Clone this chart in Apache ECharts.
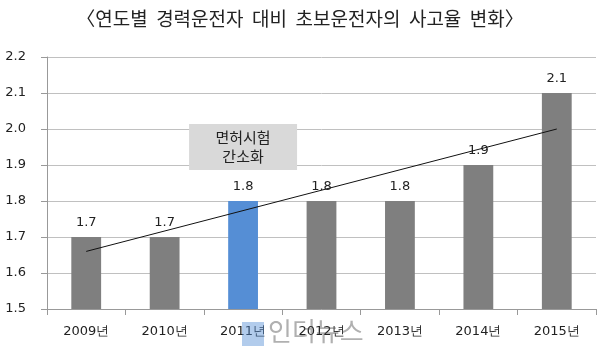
<!DOCTYPE html>
<html><head><meta charset="utf-8">
<script src="https://cdn.jsdelivr.net/npm/echarts@6/dist/echarts.min.js"></script>
<style>html,body{margin:0;padding:0;background:#fff}#c{width:600px;height:350px}</style>
</head><body><div id="c"></div>
<script>
const titleText = '〈연도별  경력운전자  대비  초보운전자의  사고율  변화〉';
const categories = ['2009년','2010년','2011년','2012년','2013년','2014년','2015년'];
const values = [1.7, 1.7, 1.8, 1.8, 1.8, 1.9, 2.1];
const highlightIndex = 2;
const trend = [1.66, null, null, null, null, null, 2.0];
const yTicks = {min: 1.5, max: 2.2, interval: 0.1};
const noteText = '면허시험\n간소화';
const noteAnchor = ['2011년', 1.95];
const watermark = '인더뉴스';

const chart = echarts.init(document.getElementById('c'), null, {renderer: 'canvas'});
const numFont = '"DejaVu Sans", Verdana, sans-serif';
const korFont = '"Noto Sans CJK KR", sans-serif';
chart.setOption({
  animation: false,
  title: {text: titleText, left: 'center', top: 4,
    textStyle: {fontFamily: korFont, fontSize: 19, fontWeight: 'normal', color: '#222'}},
  grid: {left: 47, right: 4, top: 57, bottom: 41, containLabel: false},
  xAxis: {type: 'category', data: categories,
    axisLine: {lineStyle: {color: '#999', width: 1}},
    axisTick: {show: true, length: 6, lineStyle: {color: '#999'}},
    axisLabel: {margin: 16, fontFamily: numFont, fontSize: 13, color: '#222'}
  },
  yAxis: {type: 'value', min: yTicks.min, max: yTicks.max, interval: yTicks.interval,
    axisLine: {show: true, lineStyle: {color: '#999'}},
    axisTick: {show: true, length: 6, lineStyle: {color: '#999'}},
    splitLine: {lineStyle: {color: '#c0c0c0'}},
    axisLabel: {margin: 21, fontFamily: numFont, fontSize: 13, color: '#222',
      formatter: v => v.toFixed(1)}
  },
  series: [
    {type: 'bar', barWidth: '38%',
      data: values.map((v, i) => ({value: v, itemStyle: {color: i === highlightIndex ? '#558ed5' : '#7f7f7f'}})),
      label: {show: true, position: 'top', distance: 8, fontFamily: numFont, fontSize: 13, color: '#222',
        formatter: p => p.value.toFixed(1)},
      markPoint: {symbol: 'rect', symbolSize: [108, 46], silent: true,
        data: [{coord: noteAnchor, value: noteText,
          itemStyle: {color: '#d9d9d9'},
          label: {show: true, position: 'inside', formatter: noteText, fontFamily: korFont, fontSize: 15,
            lineHeight: 19, color: '#222'}}]}
    },
    {type: 'line', data: trend, connectNulls: true, symbol: 'none',
      lineStyle: {color: '#111', width: 1}, z: 5}
  ],
  graphic: [
    {type: 'text', left: 268, top: 318, z: 100,
      style: {text: watermark, fontFamily: korFont, fontSize: 26, fill: 'rgba(80,80,80,0.45)'}},
    {type: 'rect', left: 242, top: 322, z: 100, shape: {width: 22, height: 24},
      style: {fill: 'rgba(85,142,213,0.45)'}}
  ]
});
</script></body></html>
